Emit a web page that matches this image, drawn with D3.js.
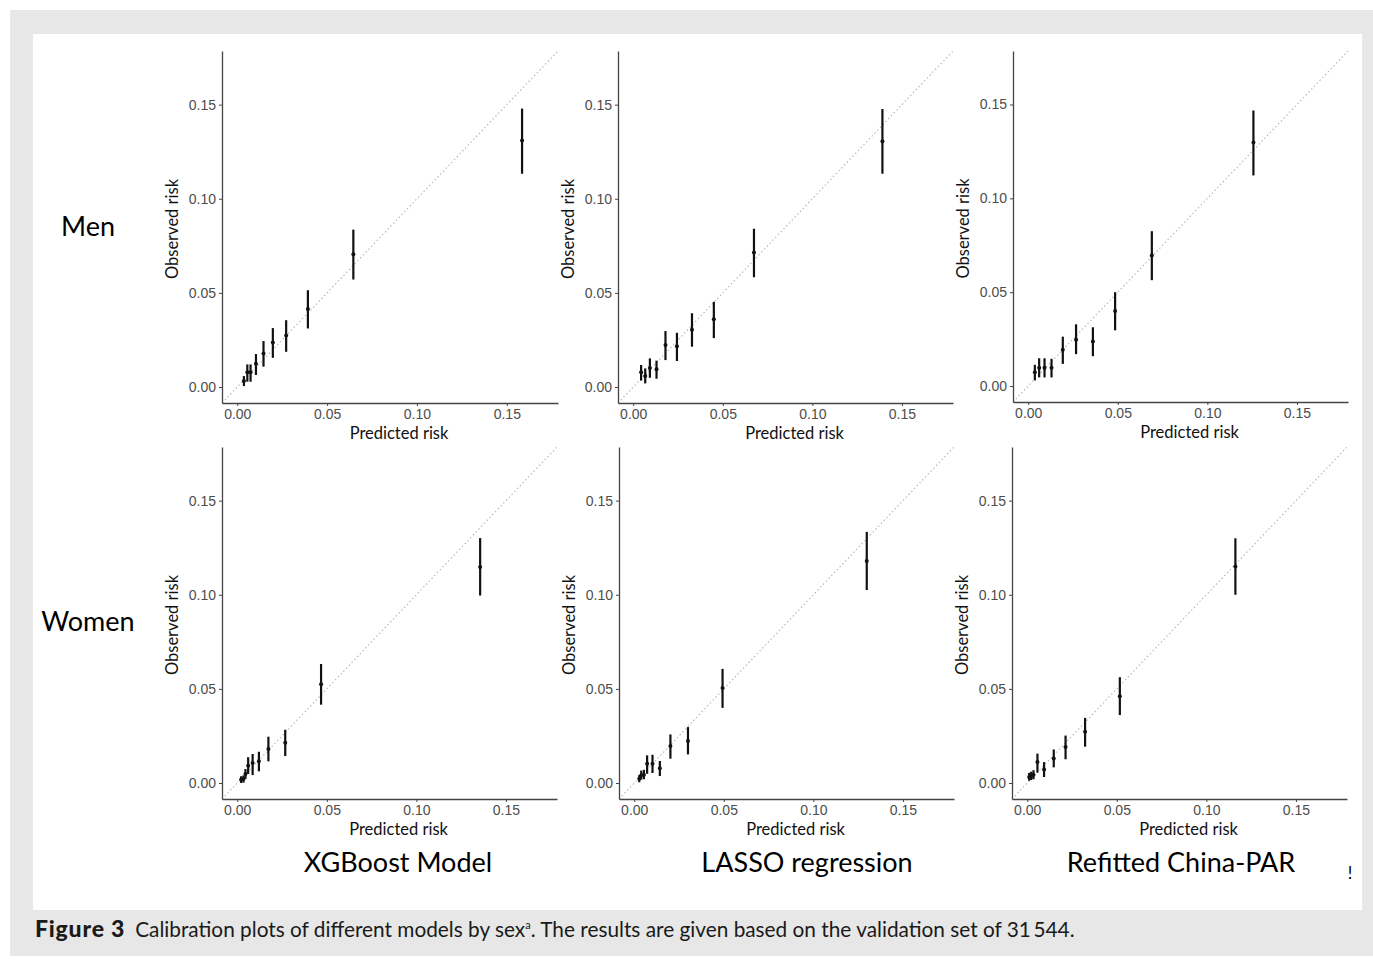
<!DOCTYPE html>
<html>
<head>
<meta charset="utf-8">
<script src="https://cdn.jsdelivr.net/npm/d3@7"></script>
<style>
  body { margin: 0; background: #fff; }
  svg { display: block; }
</style>
</head>
<body>
<div id="wrapper"></div>
<script>
// Calibration data (predicted, observed, CI low, CI high)
const menXgbPred = [0.0037, 0.0056, 0.0074, 0.0104, 0.0146, 0.0198, 0.0272, 0.0393, 0.0646, 0.1585];
const menXgbObs  = [0.0032, 0.0078, 0.0078, 0.0124, 0.0178, 0.0237, 0.0274, 0.0415, 0.0705, 0.1309];
const menXgbLow  = [0.0005, 0.0028, 0.0028, 0.0064, 0.0108, 0.0155, 0.0187, 0.0311, 0.0571, 0.1133];
const menXgbHigh = [0.0058, 0.0120, 0.0120, 0.0175, 0.0244, 0.0313, 0.0355, 0.0514, 0.0836, 0.1479];

const menLassoPred = [0.0044, 0.0067, 0.0093, 0.0130, 0.0180, 0.0244, 0.0328, 0.0450, 0.0674, 0.1391];
const menLassoObs  = [0.0078, 0.0058, 0.0101, 0.0094, 0.0223, 0.0216, 0.0304, 0.0360, 0.0714, 0.1306];
const menLassoLow  = [0.0034, 0.0019, 0.0049, 0.0044, 0.0143, 0.0138, 0.0214, 0.0260, 0.0583, 0.1133];
const menLassoHigh = [0.0117, 0.0099, 0.0152, 0.0140, 0.0297, 0.0288, 0.0392, 0.0452, 0.0841, 0.1477];

const menParPred = [0.0037, 0.0061, 0.0091, 0.0130, 0.0193, 0.0267, 0.0361, 0.0485, 0.0690, 0.1257];
const menParObs  = [0.0074, 0.0097, 0.0097, 0.0097, 0.0193, 0.0247, 0.0237, 0.0400, 0.0696, 0.1297];
const menParLow  = [0.0030, 0.0046, 0.0046, 0.0046, 0.0118, 0.0170, 0.0159, 0.0297, 0.0564, 0.1122];
const menParHigh = [0.0113, 0.0148, 0.0148, 0.0145, 0.0263, 0.0329, 0.0313, 0.0500, 0.0825, 0.1468];

const womenXgbPred = [0.0022, 0.0035, 0.0046, 0.0061, 0.0086, 0.0121, 0.0174, 0.0268, 0.0468, 0.1356];
const womenXgbObs  = [0.0018, 0.0021, 0.0048, 0.0092, 0.0106, 0.0115, 0.0180, 0.0214, 0.0524, 0.1148];
const womenXgbLow  = [0.0000, 0.0002, 0.0022, 0.0048, 0.0042, 0.0062, 0.0115, 0.0143, 0.0416, 0.0996];
const womenXgbHigh = [0.0036, 0.0040, 0.0074, 0.0137, 0.0154, 0.0166, 0.0246, 0.0283, 0.0632, 0.1301];

const womenLassoPred = [0.0028, 0.0039, 0.0054, 0.0072, 0.0102, 0.0143, 0.0202, 0.0300, 0.0493, 0.1298];
const womenLassoObs  = [0.0023, 0.0041, 0.0044, 0.0102, 0.0102, 0.0078, 0.0196, 0.0223, 0.0505, 0.1180];
const womenLassoLow  = [0.0004, 0.0018, 0.0020, 0.0049, 0.0053, 0.0037, 0.0129, 0.0152, 0.0399, 0.1025];
const womenLassoHigh = [0.0042, 0.0066, 0.0070, 0.0147, 0.0150, 0.0117, 0.0258, 0.0297, 0.0606, 0.1334];

const womenParPred = [0.0011, 0.0022, 0.0035, 0.0057, 0.0094, 0.0148, 0.0214, 0.0323, 0.0517, 0.1162];
const womenParObs  = [0.0032, 0.0037, 0.0044, 0.0111, 0.0072, 0.0130, 0.0191, 0.0272, 0.0461, 0.1150];
const womenParLow  = [0.0012, 0.0016, 0.0020, 0.0055, 0.0032, 0.0083, 0.0126, 0.0193, 0.0361, 0.1000];
const womenParHigh = [0.0054, 0.0060, 0.0068, 0.0156, 0.0111, 0.0178, 0.0252, 0.0346, 0.0562, 0.1300];

const tickValues = [0, 0.05, 0.1, 0.15];
const axisDomain = [-0.0085, 0.1785];
const rowLabels = ['Men', 'Women'];
const columnTitles = ['XGBoost Model', 'LASSO regression', 'Refitted China-PAR'];

const panelData = [
  [menXgbPred, menXgbObs, menXgbLow, menXgbHigh],
  [menLassoPred, menLassoObs, menLassoLow, menLassoHigh],
  [menParPred, menParObs, menParLow, menParHigh],
  [womenXgbPred, womenXgbObs, womenXgbLow, womenXgbHigh],
  [womenLassoPred, womenLassoObs, womenLassoLow, womenLassoHigh],
  [womenParPred, womenParObs, womenParLow, womenParHigh],
];

// panel boxes (left = y axis line, bottom = x axis line)
const panelBoxes = [
  { left: 222, top: 51, right: 558, bottom: 403 },
  { left: 618, top: 51, right: 953, bottom: 403 },
  { left: 1013, top: 51, right: 1348, bottom: 402 },
  { left: 222, top: 447, right: 557, bottom: 799 },
  { left: 619, top: 447, right: 954, bottom: 799 },
  { left: 1012, top: 447, right: 1347, bottom: 799 },
];

const width = 1373;
const height = 962;

const svg = d3
  .select('#wrapper')
  .append('svg')
  .attr('width', width)
  .attr('height', height);

// page frame
svg.append('rect')
  .attr('x', 10).attr('y', 10)
  .attr('width', width - 10).attr('height', 946)
  .attr('fill', '#e6e7e6');
svg.append('rect')
  .attr('x', 33).attr('y', 34)
  .attr('width', 1329).attr('height', 876)
  .attr('fill', '#ffffff');

const labelFont = 'Lato, "Open Sans", sans-serif';
const tickFont = '"Liberation Sans", Arial, sans-serif';

panelData.forEach((series, i) => {
  const box = panelBoxes[i];
  const [pred, obs, low, high] = series;
  const rows = pred.map((p, j) => ({ p, o: obs[j], lo: low[j], hi: high[j] }));

  const xScale = d3.scaleLinear().domain(axisDomain).range([box.left, box.right]);
  const yScale = d3.scaleLinear().domain(axisDomain).range([box.bottom, box.top]);

  const g = svg.append('g');

  // reference diagonal
  g.append('line')
    .attr('x1', xScale(axisDomain[0]))
    .attr('y1', yScale(axisDomain[0]))
    .attr('x2', xScale(axisDomain[1]))
    .attr('y2', yScale(axisDomain[1]))
    .attr('stroke', '#b5b5b5')
    .attr('stroke-width', 1.1)
    .attr('stroke-dasharray', '1.5,2.5');

  const xAxis = d3.axisBottom(xScale)
    .tickValues(tickValues)
    .tickFormat(d3.format('.2f'))
    .tickSize(3)
    .tickSizeOuter(0);
  const yAxis = d3.axisLeft(yScale)
    .tickValues(tickValues)
    .tickFormat(d3.format('.2f'))
    .tickSize(3)
    .tickSizeOuter(0);

  const gx = g.append('g')
    .attr('transform', `translate(0, ${box.bottom})`)
    .call(xAxis);
  const gy = g.append('g')
    .attr('transform', `translate(${box.left}, 0)`)
    .call(yAxis);

  [gx, gy].forEach((ax) => {
    ax.select('.domain').attr('stroke', '#444').attr('stroke-width', 1.3);
    ax.selectAll('.tick line').attr('stroke', '#444');
    ax.selectAll('.tick text')
      .attr('fill', '#4d4d4d')
      .style('font-family', tickFont)
      .style('font-size', '14px');
  });

  // axis titles
  g.append('text')
    .attr('x', (xScale(0) + xScale(0.15)) / 2 + 27)
    .attr('y', box.bottom + 36)
    .attr('text-anchor', 'middle')
    .attr('fill', '#111')
    .style('font-family', labelFont)
    .style('font-size', '16.5px')
    .text('Predicted risk');

  g.append('text')
    .attr('transform', `translate(${box.left - 44}, ${(box.top + box.bottom) / 2 + 2}) rotate(-90)`)
    .attr('text-anchor', 'middle')
    .attr('fill', '#111')
    .style('font-family', labelFont)
    .style('font-size', '16.5px')
    .text('Observed risk');

  // error bars and points
  g.selectAll('.ci')
    .data(rows)
    .enter()
    .append('line')
    .attr('class', 'ci')
    .attr('x1', (d) => xScale(d.p))
    .attr('x2', (d) => xScale(d.p))
    .attr('y1', (d) => yScale(d.lo))
    .attr('y2', (d) => yScale(d.hi))
    .attr('stroke', '#111')
    .attr('stroke-width', 2.2);

  g.selectAll('.pt')
    .data(rows)
    .enter()
    .append('circle')
    .attr('class', 'pt')
    .attr('cx', (d) => xScale(d.p))
    .attr('cy', (d) => yScale(d.o))
    .attr('r', 2)
    .attr('fill', '#111');
});

// row labels
const rowY = [236, 631];
rowLabels.forEach((label, i) => {
  svg.append('text')
    .attr('x', 88)
    .attr('y', rowY[i])
    .attr('text-anchor', 'middle')
    .attr('fill', '#000')
    .style('font-family', labelFont)
    .style('font-size', '27px')
    .text(label);
});

// column titles
const colX = [398, 807, 1181];
columnTitles.forEach((title, i) => {
  svg.append('text')
    .attr('x', colX[i])
    .attr('y', 872)
    .attr('text-anchor', 'middle')
    .attr('fill', '#000')
    .style('font-family', labelFont)
    .style('font-size', '27px')
    .text(title);
});

svg.append('text')
  .attr('x', 1350)
  .attr('y', 879)
  .attr('text-anchor', 'middle')
  .style('font-family', labelFont)
  .style('font-size', '17px')
  .text('!');

// caption
const caption = svg.append('text')
  .attr('x', 35)
  .attr('y', 937)
  .attr('fill', '#1a1a1a')
  .style('font-family', labelFont)
  .style('font-size', '20.8px');
caption.append('tspan')
  .style('font-weight', 900)
  .style('font-size', '23px')
  .style('letter-spacing', '0.8px')
  .text('Figure 3');
caption.append('tspan').attr('dx', 10).text('Calibration plots of different models by sex');
caption.append('tspan').attr('dy', -8).style('font-size', '11px').text('a');
caption.append('tspan').attr('dy', 8).text('. The results are given based on the validation set of 31\u2009544.');
</script>
</body>
</html>
